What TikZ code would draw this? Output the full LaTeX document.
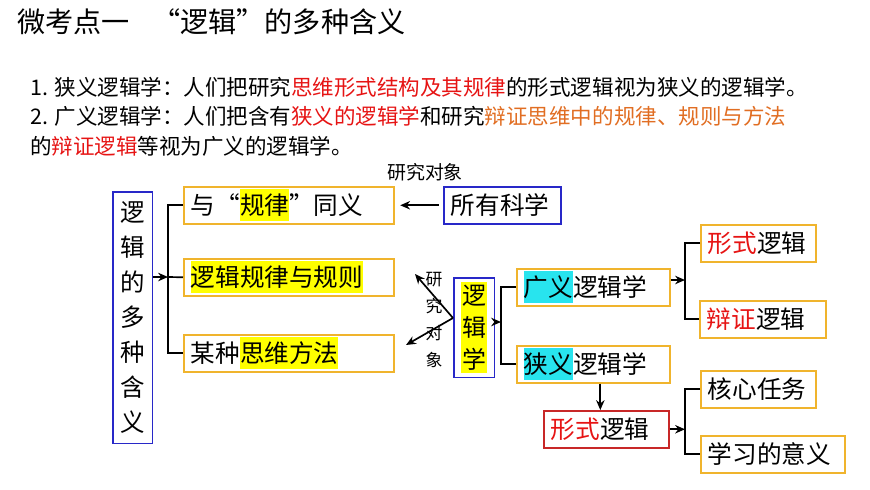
\documentclass[tikz,border=0pt]{standalone}
\usepackage{fontspec}
\setmainfont{Noto Sans CJK SC}
\usepackage{xcolor}
\usetikzlibrary{positioning,fit,arrows.meta}

\definecolor{boxorange}{RGB}{240,180,45}
\definecolor{boxblue}{RGB}{40,40,200}
\definecolor{boxred}{RGB}{200,40,40}
\definecolor{hlyellow}{RGB}{255,255,0}
\definecolor{hlcyan}{RGB}{40,228,238}
\definecolor{textred}{RGB}{230,20,20}
\definecolor{textorange}{RGB}{225,110,35}

\newcommand\fTitle{\fontsize{20}{24}\selectfont}
\newcommand\fBody{\fontsize{15.3}{18}\selectfont}
\newcommand\fBox{\fontsize{17.5}{20}\selectfont}
\newcommand\fVert{\fontsize{17.4}{24.9}\selectfont}
\newcommand\fLgx{\fontsize{17}{23}\selectfont}
\newcommand\fLbl{\fontsize{13.5}{16}\selectfont}
\newcommand\fSmall{\fontsize{12}{19.2}\selectfont}

\newcommand\tred[1]{\textcolor{textred}{#1}}
\newcommand\torange[1]{\textcolor{textorange}{#1}}
\newcommand\hly[1]{{\setlength\fboxsep{0pt}\colorbox{hlyellow}{\rule[-5pt]{0pt}{23pt}#1}}}
\newcommand\hlc[1]{{\setlength\fboxsep{0pt}\colorbox{hlcyan}{\rule[-5pt]{0pt}{23pt}#1}}}

\tikzset{
  boxline/.style={draw=#1, line width=1.1pt, anchor=north west, inner ysep=0pt},
  textbox/.style={boxline=#1, inner xsep=5pt, minimum height=26.3pt, align=left,
    font=\fBox, execute at begin node={\rule[-5pt]{0pt}{23pt}}},
  textbox/.default=boxorange,
  wd/.code={\pgfmathsetlengthmacro\boxwd{#1*0.7113pt-10pt}\pgfkeysalso{text width/.expanded=\boxwd}},
  link/.style={line width=1.2pt}
}

\begin{document}
\begin{tikzpicture}[x=0.025cm,y=-0.025cm,>={Stealth[length=7pt,width=6pt]}]
\useasboundingbox (0,0) rectangle (870,489);

% heading and the two definitions
\node[anchor=west,inner sep=0pt,font=\fTitle] (title) at (17,22) {微考点一\hspace{0.8em}“逻辑”的多种含义};
\node[anchor=west,inner sep=0pt,font=\fBody] (def1) at (30,87) {1. 狭义逻辑学：人们把研究\tred{思维形式结构及其规律}的形式逻辑视为狭义的逻辑学。};
\node[anchor=west,inner sep=0pt,font=\fBody] (def2) at (30,116) {2. 广义逻辑学：人们把含有\tred{狭义的逻辑学}和研究\torange{辩证思维中的规律、规则与方法}};
\node[anchor=west,inner sep=0pt,font=\fBody] (def3) at (30,146) {的\tred{辩证逻辑}等视为广义的逻辑学。};

% left part
\node[boxline=boxblue, text width=17.4pt, inner xsep=5.5pt, align=center, minimum height=179pt, font=\fVert] (lbox) at (112,191) {逻\\辑\\的\\多\\种\\含\\义};
\node[textbox, wd=210] (meanA) at (183,186) {与“\hly{规律}”同义};
\node[textbox, wd=210] (meanB) at (183,258) {\hly{逻辑规律与规则}};
\node[textbox, wd=210] (meanC) at (183,334) {某种\hly{思维方法}};
\node[textbox=boxblue, wd=117] (allsci) at (443,186) {所有科学};
\node[font=\fLbl] (objlbl) at (425,172) {研究对象};

\coordinate (lj) at (168,277);
\draw[link,->] (lbox.east |- lj) -- (lj);
\draw[link] (meanA.west) -| (lj) |- (meanC.west);
\draw[link] (lj) -- (meanB.west);
\draw[link,->] ([xshift=-3pt]allsci.west) -- ([xshift=4pt]meanA.east);

% logic as a science
\node[fill=hlyellow, anchor=north west, text width=17pt, inner xsep=0.7pt, inner ysep=0pt, minimum height=64.7pt, align=center, font=\fLgx] (lgx) at (461,282) {逻\\辑\\学};
\node[draw=boxblue, line width=1.1pt, inner xsep=5pt, inner ysep=2.8pt, fit=(lgx)] (lgxbox) {};

\coordinate (apex) at (453,318);
\coordinate (tipup) at (415,274);
\coordinate (tipdn) at (406,345);
\draw[link,->] (apex) -- (tipup);
\draw[link,->] (apex) -- (tipdn);
\node[font=\fSmall, align=center, inner sep=0pt] (objv) at (434,320) {研\\究\\对\\象};

% right part
\node[textbox, wd=153] (guang) at (516,268) {\hlc{广义}逻辑学};
\node[textbox, wd=153] (xia) at (516,345) {\hlc{狭义}逻辑学};
\node[textbox, wd=115] (xing1) at (700,224) {\tred{形式}逻辑};
\node[textbox, wd=126] (bian) at (699,300) {\tred{辩证}逻辑};
\node[textbox=boxred, wd=125] (xing2) at (543,410) {\tred{形式}逻辑};
\node[textbox, wd=115] (core) at (700,370) {核心任务};
\node[textbox, wd=144] (study) at (700,435) {学习的意义};

\coordinate (rj1) at (501,322);
\draw[link,->] (lgxbox.east |- rj1) -- (rj1);
\draw[link] (guang.west) -| (rj1) |- (xia.west);

\coordinate (rj2) at (685,280);
\draw[link,->] (guang.east |- rj2) -- (rj2);
\draw[link] (xing1.west) -| (rj2) |- (bian.west);

\coordinate (xs) at ([xshift=5pt]xia.south);
\draw[link,->] (xs) -- (xs |- xing2.north);

\coordinate (rj3) at (685,427);
\draw[link,->] (xing2.east) -- (xing2.east -| rj3);
\draw[link] (core.west) -| (rj3) |- (study.west);
\end{tikzpicture}
\end{document}
